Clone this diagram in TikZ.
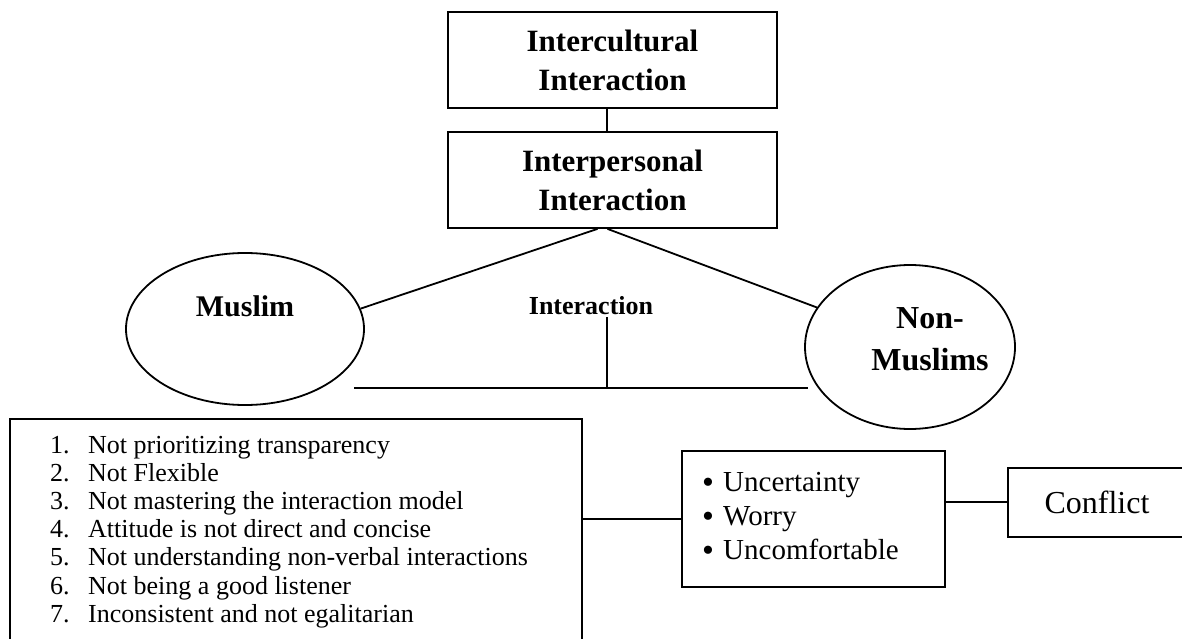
\documentclass[tikz,border=0pt]{standalone}
\usepackage{fontspec}
\setmainfont{Liberation Serif}
\usetikzlibrary{shapes.geometric}

\tikzset{
  box/.style={draw, line width=1.8pt, inner sep=0pt, align=center},
  oval/.style={draw, ellipse, line width=1.8pt, inner sep=0pt},
  link/.style={line width=1.8pt},
  item/.style={inner sep=0pt, font=\fontsize{26}{28}\selectfont},
}

\begin{document}
\begin{tikzpicture}[x=1pt,y=-1pt]
\useasboundingbox (0,0) rectangle (1182,639);

% the two levels of interaction
\node[box, minimum width=329pt, minimum height=96pt, font=\fontsize{31}{39}\selectfont\bfseries] (cult) at (612.5,60) {Intercultural\\Interaction};
\node[box, minimum width=329pt, minimum height=96pt, font=\fontsize{31}{39}\selectfont\bfseries] (pers) at (612.5,180) {Interpersonal\\Interaction};
\draw[link] ([xshift=-5.5pt]cult.south) -- ([xshift=-5.5pt]pers.north);

% the two sides
\node[oval, minimum width=238pt, minimum height=152pt] (muslim) at (245,329) {};
\node[oval, minimum width=210pt, minimum height=164pt] (nonmus) at (910,347) {};
\node[inner sep=0pt, font=\fontsize{30}{36}\selectfont\bfseries] (muslimtxt) at (245,306) {Muslim};
\node[inner sep=0pt, align=center, font=\fontsize{32}{42}\selectfont\bfseries] (nonmustxt) at (930,339) {Non-\\Muslims};
\node[inner sep=0pt, font=\fontsize{26}{30}\selectfont\bfseries] (mid) at (591,306) {Interaction};
\draw[link] (muslim.10) -- ([xshift=-15pt]pers.south);
\draw[link] ([xshift=-5pt]pers.south) -- (nonmus.157);

\coordinate (hl) at (354,388);
\coordinate (hr) at (808,388);
\coordinate (vtop) at (607,317);
\draw[link] (hl) -- (hr);
\draw[link] (vtop) -- (vtop |- hl);

% causes
\node[box, minimum width=572pt, minimum height=241pt] (causes) at (296,539.5) {};
\foreach \i/\txt in {1/Not prioritizing transparency,
                     2/Not Flexible,
                     3/Not mastering the interaction model,
                     4/Attitude is not direct and concise,
                     5/Not understanding non-verbal interactions,
                     6/Not being a good listener,
                     7/Inconsistent and not egalitarian}{
  \node[item, anchor=base west] (num\i) at (50,{453+28.2*(\i-1)}) {\i.};
  \node[item, anchor=base west] (item\i) at (88,{453+28.2*(\i-1)}) {\txt};
}

% feelings
\node[box, minimum width=263pt, minimum height=136pt] (feel) at (813.5,519) {};
\foreach \i/\txt in {1/Uncertainty,2/Worry,3/Uncomfortable}{
  \node[inner sep=0pt, anchor=base, font=\fontsize{34}{34}\selectfont] (dot\i) at (708,{493+34*(\i-1)}) {\textbullet};
  \node[inner sep=0pt, anchor=base west, font=\fontsize{29}{34}\selectfont] (feel\i) at (723,{491+34*(\i-1)}) {\txt};
}

\node[box, minimum width=178pt, minimum height=69pt, font=\fontsize{32}{38}\selectfont] (conf) at (1097,502.5) {Conflict};
\coordinate (cj) at (1008,502);

\draw[link] (feel.west) -- (feel.west -| causes.east);
\draw[link] (feel.east |- cj) -- (cj);
\end{tikzpicture}
\end{document}
